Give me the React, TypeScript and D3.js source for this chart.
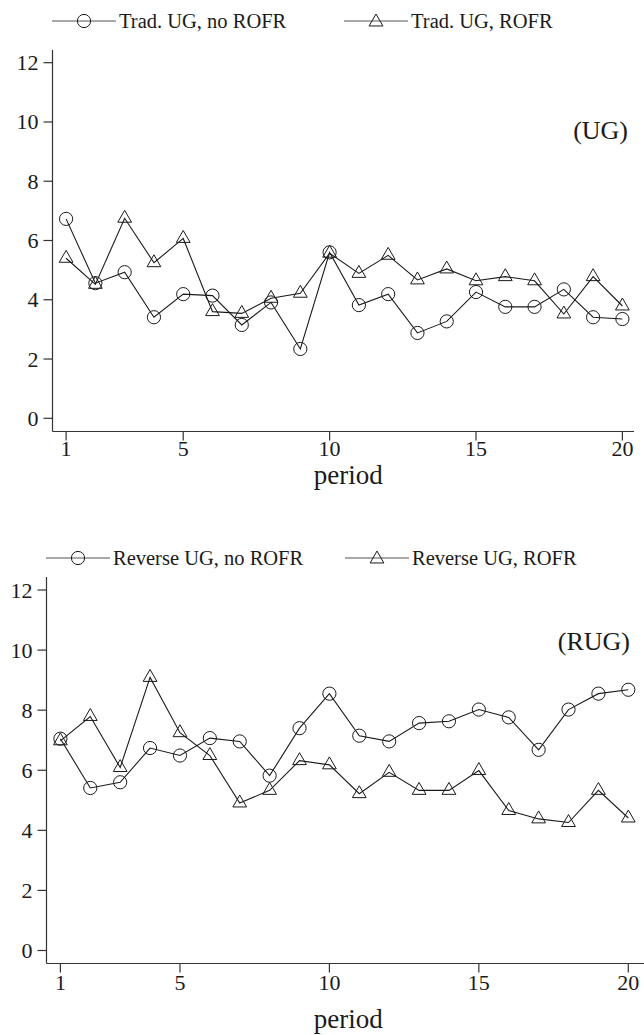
import React from "react";
import * as d3 from "d3";

const periods: number[] = d3.range(1, 21);
const xTicks: number[] = [1, 5, 10, 15, 20];
const yTicks: number[] = [0, 2, 4, 6, 8, 10, 12];

const ugNoRofr: number[] = [6.73, 4.56, 4.93, 3.41, 4.19, 4.14, 3.15, 3.91, 2.34, 5.6, 3.82, 4.19, 2.88, 3.27, 4.26, 3.76, 3.76, 4.35, 3.41, 3.35];
const ugRofr: number[] = [5.4, 4.52, 6.75, 5.25, 6.07, 3.6, 3.54, 4.05, 4.22, 5.57, 4.89, 5.5, 4.67, 5.04, 4.64, 4.78, 4.64, 3.52, 4.78, 3.79];
const rugNoRofr: number[] = [7.05, 5.41, 5.6, 6.74, 6.49, 7.07, 6.96, 5.82, 7.4, 8.55, 7.15, 6.96, 7.57, 7.63, 8.02, 7.76, 6.68, 8.02, 8.55, 8.68];
const rugRofr: number[] = [6.98, 7.79, 6.09, 9.09, 7.25, 6.49, 4.91, 5.33, 6.32, 6.18, 5.22, 5.93, 5.33, 5.33, 5.99, 4.66, 4.38, 4.26, 5.33, 4.41];

const legendTop: string[] = ["Trad. UG, no ROFR", "Trad. UG, ROFR"];
const legendBottom: string[] = ["Reverse UG, no ROFR", "Reverse UG, ROFR"];

const FONT = "'Liberation Serif', 'Times New Roman', serif";
const INK = "#1a1a1a";

type PanelProps = {
  a: number[];
  b: number[];
  labels: string[];
  tag: string;
  axisX: number;
  x1: number;
  x20: number;
  y0: number;
  y12: number;
  axisY: number;
  axisTop: number;
  axisRight: number;
  legendY: number;
  legendX: number[];
  tagX: number;
  tagY: number;
  tickLabelY: number;
  periodY: number;
};

const triangle = d3.symbol().type(d3.symbolTriangle).size(82)();

function Marker({ kind, x, y }: { kind: "c" | "t"; x: number; y: number }) {
  if (kind === "c") {
    return <circle cx={x} cy={y} r={6.6} fill="none" stroke={INK} strokeWidth={1} />;
  }
  return <path d={triangle as string} transform={`translate(${x},${y})`} fill="none" stroke={INK} strokeWidth={1} />;
}

function Panel(p: PanelProps) {
  const x = d3.scaleLinear().domain([1, 20]).range([p.x1, p.x20]);
  const y = d3.scaleLinear().domain([0, 12]).range([p.y0, p.y12]);
  const line = d3
    .line<number>()
    .x((_, i) => x(periods[i]))
    .y((d) => y(d));
  return (
    <g fontFamily={FONT} fill={INK}>
      {[0, 1].map((k) => (
        <g key={k}>
          <line x1={p.legendX[k]} x2={p.legendX[k] + 64} y1={p.legendY} y2={p.legendY} stroke="#555" strokeWidth={1.2} />
          <Marker kind={k === 0 ? "c" : "t"} x={p.legendX[k] + 32} y={p.legendY + (k === 0 ? 0 : 1)} />
          <text x={p.legendX[k] + 67} y={p.legendY + 6.5} fontSize={20.5}>
            {p.labels[k]}
          </text>
        </g>
      ))}
      <line x1={p.axisX} x2={p.axisX} y1={p.axisTop} y2={p.axisY} stroke="#333" strokeWidth={1.2} />
      <line x1={p.axisX} x2={p.axisRight} y1={p.axisY} y2={p.axisY} stroke="#333" strokeWidth={1.2} />
      {yTicks.map((t) => (
        <g key={t}>
          <line x1={p.axisX - 9} x2={p.axisX} y1={y(t)} y2={y(t)} stroke="#333" strokeWidth={1.2} />
          <text x={p.axisX - 14} y={y(t) + 7.5} fontSize={22} textAnchor="end">
            {t}
          </text>
        </g>
      ))}
      {xTicks.map((t) => (
        <g key={t}>
          <line x1={x(t)} x2={x(t)} y1={p.axisY} y2={p.axisY + 9} stroke="#333" strokeWidth={1.2} />
          <text x={x(t)} y={p.tickLabelY} fontSize={22} textAnchor="middle">
            {t}
          </text>
        </g>
      ))}
      <text x={(p.x1 + p.x20) / 2 + 4} y={p.periodY} fontSize={27} textAnchor="middle">
        period
      </text>
      <text x={p.tagX} y={p.tagY} fontSize={26} textAnchor="end">
        {p.tag}
      </text>
      <path d={line(p.a) as string} fill="none" stroke={INK} strokeWidth={1.1} />
      <path d={line(p.b) as string} fill="none" stroke={INK} strokeWidth={1.1} />
      {p.a.map((v, i) => (
        <Marker key={"a" + i} kind="c" x={x(periods[i])} y={y(v)} />
      ))}
      {p.b.map((v, i) => (
        <Marker key={"b" + i} kind="t" x={x(periods[i])} y={y(v)} />
      ))}
    </g>
  );
}

export default function App() {
  return (
    <svg width={644} height={1035} style={{ position: "absolute", left: 0, top: 0, background: "#fff" }}>
      <rect width={644} height={1035} fill="#fff" />
      <Panel
        a={ugNoRofr}
        b={ugRofr}
        labels={legendTop}
        tag="(UG)"
        axisX={52.5}
        x1={66.1}
        x20={622.4}
        y0={418.3}
        y12={62.7}
        axisY={431.5}
        axisTop={50}
        axisRight={634}
        legendY={21}
        legendX={[52, 344]}
        tagX={628}
        tagY={139}
        tickLabelY={456}
        periodY={484}
      />
      <Panel
        a={rugNoRofr}
        b={rugRofr}
        labels={legendBottom}
        tag="(RUG)"
        axisX={46.5}
        x1={60.4}
        x20={628.3}
        y0={950.5}
        y12={590}
        axisY={963.5}
        axisTop={577}
        axisRight={644}
        legendY={558}
        legendX={[46, 345]}
        tagX={630}
        tagY={650}
        tickLabelY={990}
        periodY={1028}
      />
    </svg>
  );
}
